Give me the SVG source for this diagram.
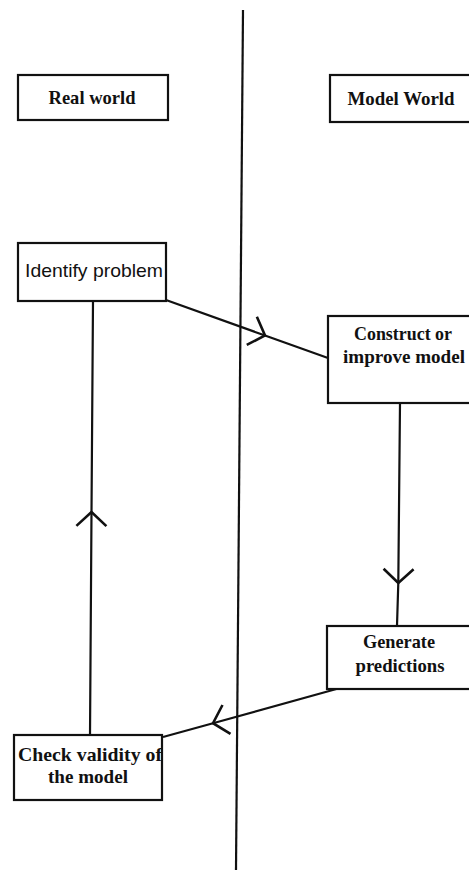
<svg xmlns="http://www.w3.org/2000/svg" width="469" height="873" viewBox="0 0 469 873">
<style>
.box{fill:#fff;stroke:#111;stroke-width:2.2}
.lbl{font-family:"Liberation Serif","Times New Roman",serif;font-weight:bold;font-size:19px;fill:#111;text-anchor:middle}
.sans{font-family:"Liberation Sans",Arial,sans-serif;font-weight:normal}
.con{fill:none;stroke:#111;stroke-width:2.2}
.div{stroke:#111;stroke-width:2.2}
</style>
<defs>
<marker id="chev" markerUnits="userSpaceOnUse" orient="auto" markerWidth="40" markerHeight="40" refX="0" refY="0" viewBox="-20 -20 40 40" overflow="visible">
<path d="M-14,-15 L0,0 L-14,15" fill="none" stroke="#111" stroke-width="2.6"/>
</marker>
</defs>
<line class="div" x1="243" y1="10" x2="236" y2="870"/>
<g id="connectors">
<path class="con" d="M166,300 L265,335.5 L328,358" marker-mid="url(#chev)"/>
<path class="con" d="M400,403 L398.3,583 L397,626" marker-mid="url(#chev)"/>
<path class="con" d="M340,688 L213,723.2 L163,737" marker-mid="url(#chev)"/>
<path class="con" d="M90,735 L91.5,512 L93,301" marker-mid="url(#chev)"/>
</g>
<g id="real-world">
<rect class="box" x="18" y="75" width="150" height="45"/>
<text class="lbl" x="92" y="104" textLength="87" lengthAdjust="spacingAndGlyphs">Real world</text>
</g>
<g id="model-world">
<rect class="box" x="330" y="75" width="160" height="47"/>
<text class="lbl" x="401" y="105" textLength="107" lengthAdjust="spacingAndGlyphs">Model World</text>
</g>
<g id="identify-problem">
<rect class="box" x="18" y="243" width="148" height="58"/>
<text class="lbl sans" x="94" y="277" textLength="138" lengthAdjust="spacingAndGlyphs">Identify problem</text>
</g>
<g id="construct-model">
<rect class="box" x="328" y="316" width="160" height="87"/>
<text class="lbl" x="403" y="340" textLength="98" lengthAdjust="spacingAndGlyphs">Construct or</text>
<text class="lbl" x="404" y="363" textLength="122" lengthAdjust="spacingAndGlyphs">improve model</text>
</g>
<g id="generate-predictions">
<rect class="box" x="327" y="626" width="160" height="63"/>
<text class="lbl" x="399" y="648" textLength="72" lengthAdjust="spacingAndGlyphs">Generate</text>
<text class="lbl" x="400" y="672" textLength="89" lengthAdjust="spacingAndGlyphs">predictions</text>
</g>
<g id="check-validity">
<rect class="box" x="14" y="735" width="148" height="65"/>
<text class="lbl" x="90" y="761" textLength="144" lengthAdjust="spacingAndGlyphs">Check validity of</text>
<text class="lbl" x="88" y="783" textLength="80" lengthAdjust="spacingAndGlyphs">the model</text>
</g>
</svg>
